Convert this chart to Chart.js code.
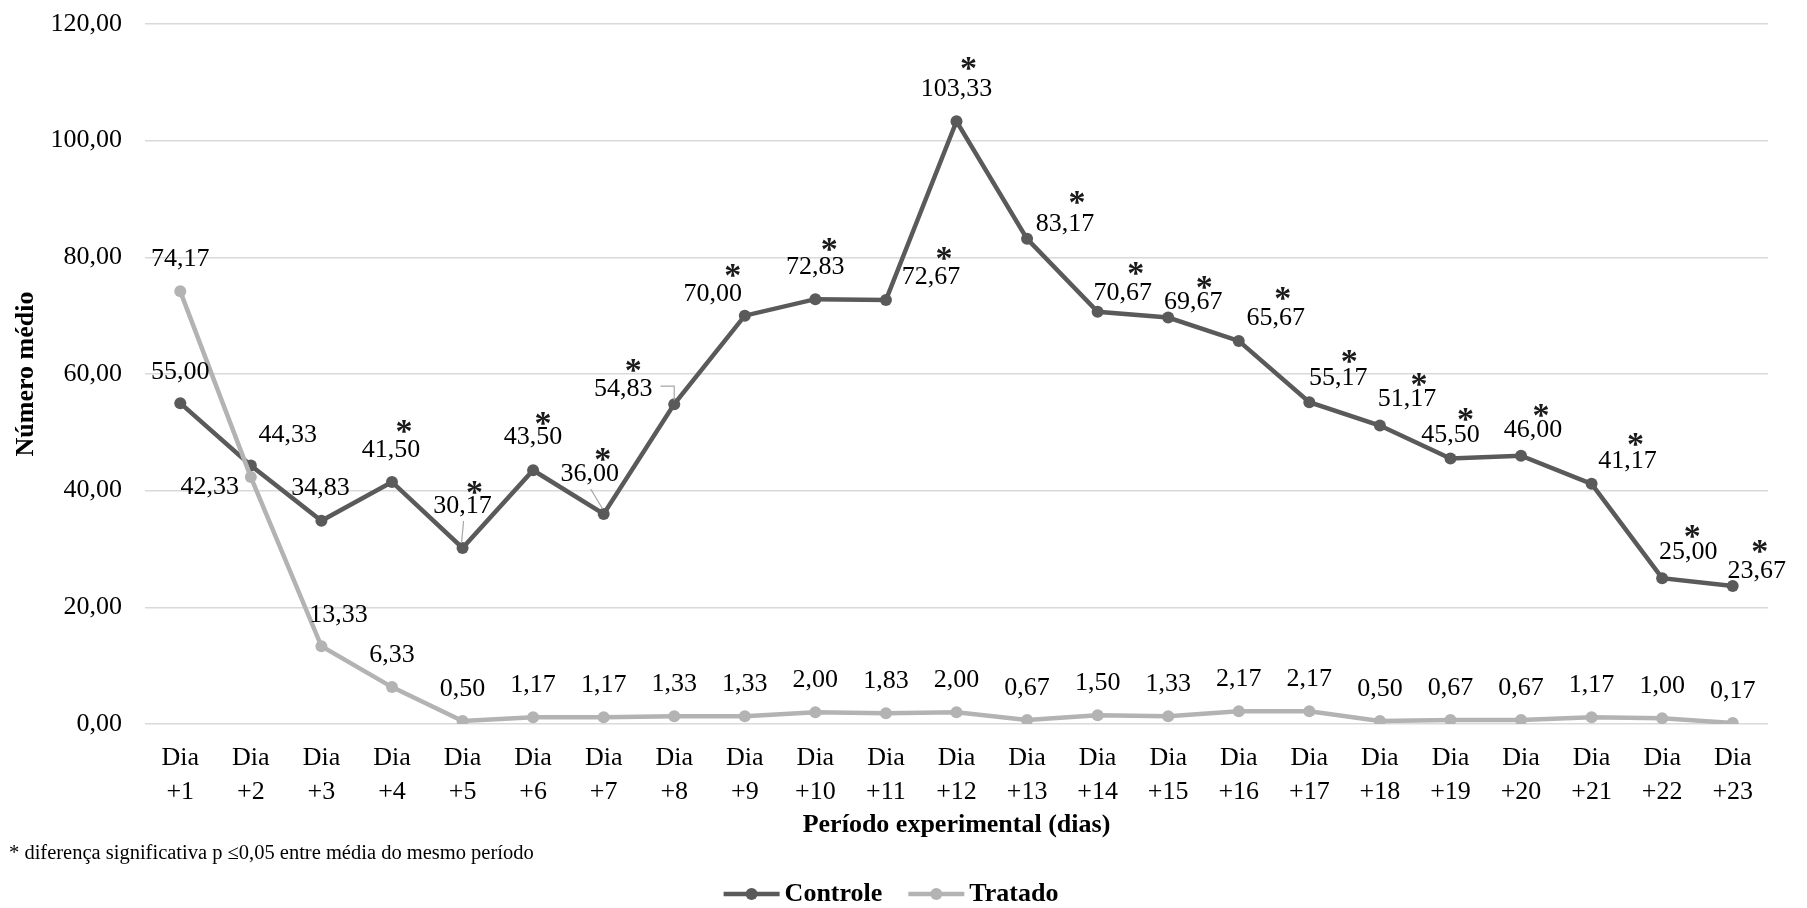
<!DOCTYPE html>
<html lang="pt">
<head>
<meta charset="utf-8">
<title>Número médio por período experimental</title>
<script src="https://cdn.jsdelivr.net/npm/chart.js@4.4.1/dist/chart.umd.min.js"></script>
<style>
  html, body { margin: 0; padding: 0; background: #ffffff; }
  #wrap { width: 1807px; height: 908px; }
</style>
</head>
<body>
<div id="wrap"><canvas id="chart" width="1807" height="908"></canvas></div>
<script>
// ---- data ----
const dayLabels = ['+1','+2','+3','+4','+5','+6','+7','+8','+9','+10','+11','+12',
                   '+13','+14','+15','+16','+17','+18','+19','+20','+21','+22','+23'];
const controle = [55.00, 44.33, 34.83, 41.50, 30.17, 43.50, 36.00, 54.83, 70.00, 72.83, 72.67, 103.33,
                  83.17, 70.67, 69.67, 65.67, 55.17, 51.17, 45.50, 46.00, 41.17, 25.00, 23.67];
const tratado  = [74.17, 42.33, 13.33, 6.33, 0.50, 1.17, 1.17, 1.33, 1.33, 2.00, 1.83, 2.00,
                  0.67, 1.50, 1.33, 2.17, 2.17, 0.50, 0.67, 0.67, 1.17, 1.00, 0.17];
// days where the two means differ significantly (p <= 0,05)
const significativo = [false, false, false, true, true, true, true, true, true, true, true, true,
                       true, true, true, true, true, true, true, true, true, true, true];
const yTicks = [0, 20, 40, 60, 80, 100, 120];

// ---- styling ----
const SERIF = "'Liberation Serif', 'Times New Roman', Times, serif";
const COR_CONTROLE = '#5a5a5a';
const COR_TRATADO = '#b3b3b3';
const FONT_SIZE = 26;

// label placement (pixel offsets from each point) so labels don't collide
const controleLabelPos = [
  [0,-31],[37,-30],[-1,-33],[-1,-32],[0,-42],[0,-33],[-14,-40],[-51,-15],[-32,-21],[0,-32],[45,-23],[0,-32],
  [38,-15],[25,-19],[25,-15],[37,-23],[29,-24],[27,-26],[0,-23],[12,-25],[36,-23],[26,-26],[24,-15]
];
const starPos = [ // relative to the controle label centre
  null,null,null,[13,-25],[12,-20],[10,-20],[13,-21],[10,-25],[20,-26],[14,-24],[13,-25],[12,-27],
  [12,-28],[13,-26],[11,-22],[7,-26],[11,-23],[12,-22],[15,-23],[8,-22],[8,-23],[4,-22],[3,-26]
];
const leaderLines = {4: 'straight', 6: 'straight', 7: 'elbow'};
const tratadoLabelPos = dayLabels.map((d, i) => i === 1 ? [-41, 10] : i === 2 ? [17, -31] : [0, -32]);

const fmt = v => v.toFixed(2).replace('.', ',');

const labelsPlugin = {
  id: 'valueLabels',
  afterDatasetsDraw(chart) {
    const ctx = chart.ctx;
    ctx.save();
    ctx.font = `${FONT_SIZE}px ${SERIF}`;
    ctx.textAlign = 'center';
    ctx.textBaseline = 'middle';
    chart.data.datasets.forEach((ds, di) => {
      const meta = chart.getDatasetMeta(di);
      const isControle = ds.label === 'Controle';
      const pos = isControle ? controleLabelPos : tratadoLabelPos;
      meta.data.forEach((pt, i) => {
        const lx = pt.x + pos[i][0];
        const ly = pt.y + pos[i][1];
        const txt = fmt(ds.data[i]);
        if (isControle && leaderLines[i]) {
          ctx.save();
          ctx.strokeStyle = '#a6a6a6';
          ctx.lineWidth = 1.2;
          ctx.beginPath();
          if (leaderLines[i] === 'elbow') {
            const w = ctx.measureText(txt).width;
            ctx.moveTo(lx + w / 2 + 8, ly - 3);
            ctx.lineTo(pt.x, ly - 3);
            ctx.lineTo(pt.x, pt.y - 4);
          } else {
            ctx.moveTo(lx + 1, ly + 15);
            ctx.lineTo(pt.x - 1, pt.y - 5);
          }
          ctx.stroke();
          ctx.restore();
        }
        ctx.fillStyle = '#000000';
        ctx.fillText(txt, lx, ly);
        if (isControle && significativo[i] && starPos[i]) {
          ctx.save();
          ctx.font = `bold 34px ${SERIF}`;
          ctx.textBaseline = 'alphabetic';
          ctx.fillStyle = '#1a1a1a';
          ctx.fillText('*', lx + starPos[i][0], ly + starPos[i][1] + 17);
          ctx.restore();
        }
      });
    });
    ctx.restore();
  }
};

const legendFootPlugin = {
  id: 'legendFoot',
  afterDraw(chart) {
    const ctx = chart.ctx;
    ctx.save();
    // footnote
    ctx.font = `20.5px ${SERIF}`;
    ctx.fillStyle = '#000000';
    ctx.textAlign = 'left';
    ctx.textBaseline = 'middle';
    ctx.fillText('* diferença significativa p \u22640,05 entre média do mesmo período', 9, 854);
    // legend
    const items = chart.data.datasets.map(ds => ({ label: ds.label, color: ds.borderColor }));
    ctx.font = `bold ${FONT_SIZE}px ${SERIF}`;
    const sample = 56, gapText = 5, gapItem = 26;
    const widths = items.map(it => sample + gapText + ctx.measureText(it.label).width);
    const total = widths.reduce((a, b) => a + b, 0) + gapItem * (items.length - 1);
    let x = 891 - total / 2;
    const y = 894;
    items.forEach((it, k) => {
      ctx.strokeStyle = it.color;
      ctx.lineWidth = 4.5;
      ctx.beginPath();
      ctx.moveTo(x, y);
      ctx.lineTo(x + sample, y);
      ctx.stroke();
      ctx.fillStyle = it.color;
      ctx.beginPath();
      ctx.arc(x + sample / 2, y, 6, 0, Math.PI * 2);
      ctx.fill();
      ctx.fillStyle = '#000000';
      ctx.fillText(it.label, x + sample + gapText, y);
      x += widths[k] + gapItem;
    });
    ctx.restore();
  }
};

new Chart(document.getElementById('chart'), {
  type: 'line',
  data: {
    labels: dayLabels.map(d => ['Dia', d]),
    datasets: [
      {
        label: 'Controle',
        data: controle,
        borderColor: COR_CONTROLE,
        backgroundColor: COR_CONTROLE,
        borderWidth: 4.5,
        pointRadius: 6,
        pointHoverRadius: 6,
        pointBorderWidth: 0,
        tension: 0,
        order: 1
      },
      {
        label: 'Tratado',
        data: tratado,
        borderColor: COR_TRATADO,
        backgroundColor: COR_TRATADO,
        borderWidth: 4.5,
        pointRadius: 6,
        pointHoverRadius: 6,
        pointBorderWidth: 0,
        tension: 0,
        order: 0
      }
    ]
  },
  options: {
    responsive: false,
    animation: false,
    devicePixelRatio: 1,
    layout: { padding: { top: 24, right: 39, bottom: 67, left: 0 } },
    plugins: {
      legend: { display: false },
      tooltip: { enabled: false },
      title: { display: false }
    },
    scales: {
      x: {
        offset: true,
        grid: { display: false, drawTicks: false },
        border: { display: false },
        ticks: {
          autoSkip: false,
          maxRotation: 0,
          padding: 17,
          color: '#000000',
          font: { family: SERIF, size: FONT_SIZE, lineHeight: 1.31 }
        },
        title: {
          display: true,
          text: 'Período experimental (dias)',
          color: '#000000',
          padding: { top: 0, bottom: 0 },
          font: { family: SERIF, size: FONT_SIZE, weight: 'bold', lineHeight: 1.2 }
        },
        afterFit(scale) { scale.height = 117; }
      },
      y: {
        min: 0,
        max: 120,
        afterBuildTicks(scale) { scale.ticks = yTicks.map(v => ({ value: v })); },
        grid: { color: '#d9d9d9', lineWidth: 1.5, drawTicks: false },
        border: { display: false },
        ticks: {
          padding: 23,
          color: '#000000',
          font: { family: SERIF, size: FONT_SIZE },
          callback: v => fmt(v)
        },
        title: {
          display: true,
          text: 'Número médio',
          color: '#000000',
          padding: { top: 11, bottom: 0 },
          font: { family: SERIF, size: FONT_SIZE, weight: 'bold', lineHeight: 1.2 }
        },
        afterFit(scale) {
          scale.width = 145;
          scale.paddingTop = 0;
          scale.paddingBottom = 0;
        }
      }
    }
  },
  plugins: [labelsPlugin, legendFootPlugin]
});
</script>
</body>
</html>
